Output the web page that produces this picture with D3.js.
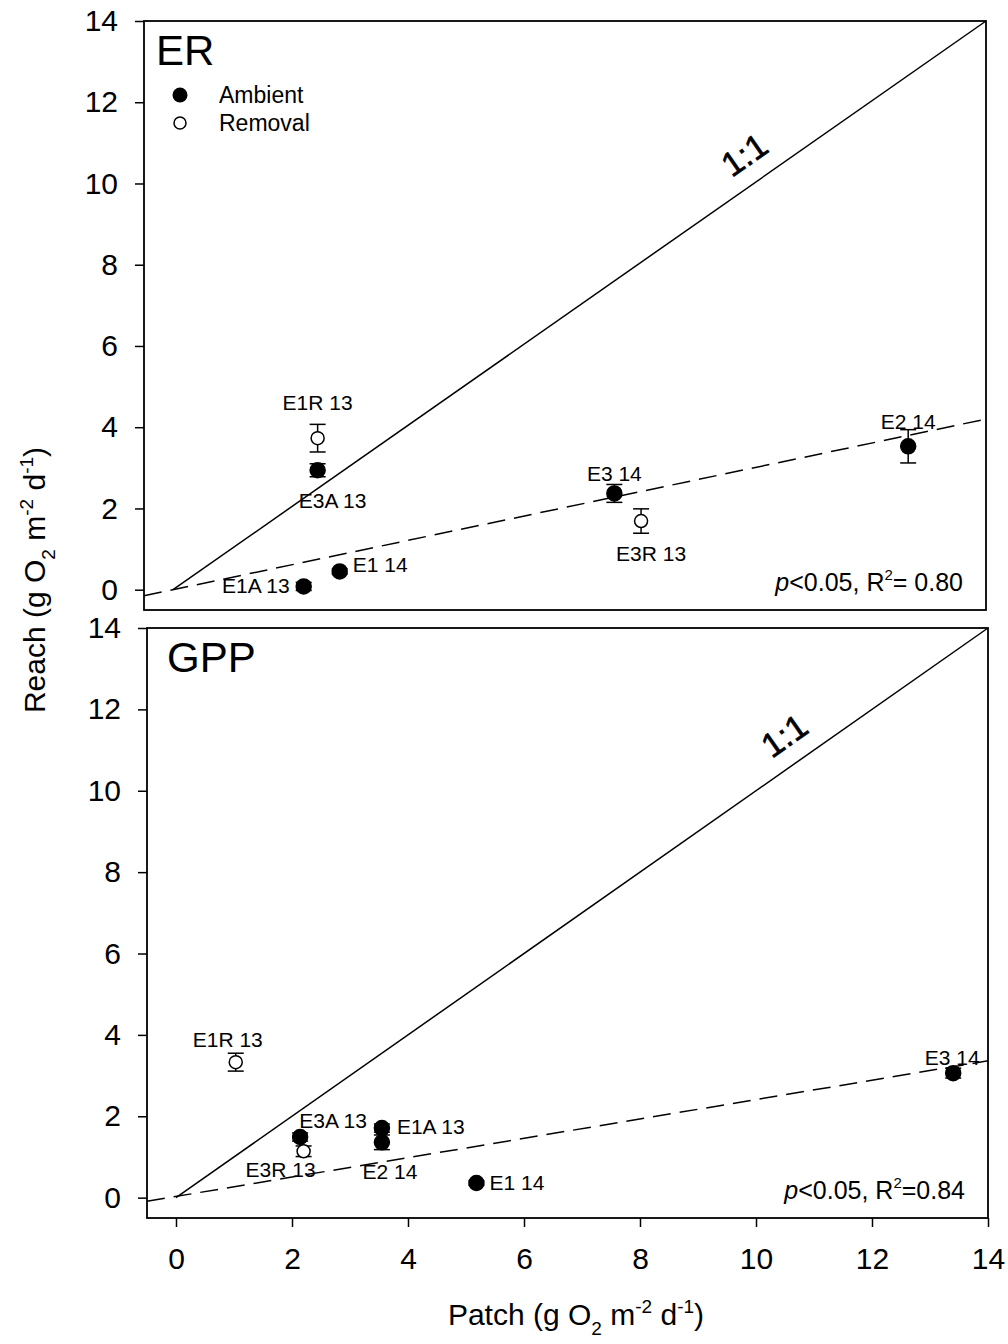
<!DOCTYPE html>
<html>
<head>
<meta charset="utf-8">
<script src="https://cdn.jsdelivr.net/npm/d3@7"></script>
<style>
  body { margin: 0; background: #fff; }
  text { font-family: "Liberation Sans", Arial, sans-serif; fill: #000; }
</style>
</head>
<body>
<div id="chart"></div>
<script>
// ER panel data
const erNames = ["E1A 13", "E1 14", "E3A 13", "E3 14", "E2 14", "E1R 13", "E3R 13"];
const erPatch = [2.25, 2.87, 2.49, 7.6, 12.66, 2.49, 8.06];
const erReach = [0.08, 0.45, 2.94, 2.37, 3.53, 3.73, 1.69];
const erErr   = [0.1, 0.06, 0.16, 0.22, 0.41, 0.34, 0.3];
const erType  = ["Ambient", "Ambient", "Ambient", "Ambient", "Ambient", "Removal", "Removal"];
const erFit   = { slope: 0.30, intercept: 0.0 };
const erStat  = "0.80";

// GPP panel data
const gppNames = ["E3A 13", "E1A 13", "E2 14", "E1 14", "E3 14", "E1R 13", "E3R 13"];
const gppPatch = [2.14, 3.55, 3.55, 5.18, 13.4, 1.03, 2.2];
const gppReach = [1.49, 1.71, 1.36, 0.36, 3.06, 3.33, 1.14];
const gppErr   = [0.1, 0.1, 0.18, 0.05, 0.12, 0.22, 0.13];
const gppType  = ["Ambient", "Ambient", "Ambient", "Ambient", "Ambient", "Removal", "Removal"];
const gppFit   = { slope: 0.238, intercept: 0.03 };
const gppStat  = "0.84";

const ticks = [0, 2, 4, 6, 8, 10, 12, 14];

// where each point label sits relative to its marker
const erLabelAt = {
  "E1R 13": [0, -28, "middle"], "E3A 13": [15, 38, "middle"], "E1 14": [13, 1, "start"],
  "E1A 13": [-14, 7, "end"], "E3 14": [0, -12, "middle"], "E3R 13": [10, 40, "middle"],
  "E2 14": [0, -17, "middle"]
};
const gppLabelAt = {
  "E1R 13": [-8, -15, "middle"], "E3A 13": [33, -9, "middle"], "E3R 13": [-23, 26, "middle"],
  "E1A 13": [15, 6, "start"], "E2 14": [8, 37, "middle"], "E1 14": [13, 7, "start"],
  "E3 14": [-1, -8, "middle"]
};

const svg = d3.select("#chart").append("svg")
  .attr("width", 1008)
  .attr("height", 1344);

function drawPanel(opt) {
  const x = d3.scaleLinear().domain([-0.5, 14]).range([opt.left, opt.right]);
  const y = d3.scaleLinear().domain([-0.5, 14]).range([opt.bottom, opt.top]);
  const g = svg.append("g");

  const data = opt.names.map((n, i) => ({
    name: n, px: opt.patch[i], ry: opt.reach[i], err: opt.err[i], type: opt.type[i]
  }));

  // frame
  g.append("rect")
    .attr("x", opt.left).attr("y", opt.top)
    .attr("width", opt.right - opt.left).attr("height", opt.bottom - opt.top)
    .attr("fill", "none").attr("stroke", "#000").attr("stroke-width", 1.8);

  // y axis
  const yAxis = g.append("g")
    .attr("transform", `translate(${opt.left},0)`)
    .call(d3.axisLeft(y).tickValues(ticks).tickSize(9).tickPadding(17).tickFormat(d3.format("d")));
  yAxis.select(".domain").remove();
  yAxis.selectAll("line").attr("stroke-width", 1.5);
  yAxis.selectAll("text").style("font-size", "30px").attr("font-family", "Liberation Sans, Arial, sans-serif");

  if (opt.xTicks) {
    const xAxis = g.append("g")
      .attr("transform", `translate(0,${opt.bottom})`)
      .call(d3.axisBottom(x).tickValues(ticks).tickSize(9).tickPadding(21).tickFormat(d3.format("d")));
    xAxis.select(".domain").remove();
    xAxis.selectAll("line").attr("stroke-width", 1.5);
    xAxis.selectAll("text").style("font-size", "30px").attr("font-family", "Liberation Sans, Arial, sans-serif");
  }

  // 1:1 line
  g.append("line")
    .attr("x1", x(0)).attr("y1", y(0)).attr("x2", x(14)).attr("y2", y(14))
    .attr("stroke", "#000").attr("stroke-width", 1.5);

  const ang = Math.atan2(y(0) - y(14), x(14) - x(0)) * 180 / Math.PI;
  g.append("text")
    .attr("transform", `translate(${x(opt.oneAt)},${y(opt.oneAt)}) rotate(${-ang})`)
    .attr("x", 23).attr("y", -17)
    .attr("text-anchor", "middle")
    .style("font-size", "34px")
    .style("stroke", "#000").style("stroke-width", 0.6)
    .text("1:1");

  // regression line
  const fx = [-0.5, 14];
  g.append("path")
    .attr("d", d3.line().x(d => x(d)).y(d => y(opt.fit.intercept + opt.fit.slope * d))(fx))
    .attr("fill", "none").attr("stroke", "#000").attr("stroke-width", 1.5)
    .attr("stroke-dasharray", "18,9");

  // error bars
  const eb = g.selectAll(".err").data(data).enter().append("g");
  eb.append("line")
    .attr("x1", d => x(d.px)).attr("x2", d => x(d.px))
    .attr("y1", d => y(d.ry - d.err)).attr("y2", d => y(d.ry + d.err))
    .attr("stroke", "#000").attr("stroke-width", 1.5);
  eb.selectAll(".cap").data(d => [d.ry - d.err, d.ry + d.err].map(v => ({ px: d.px, v })))
    .enter().append("line")
    .attr("x1", d => x(d.px) - 8).attr("x2", d => x(d.px) + 8)
    .attr("y1", d => y(d.v)).attr("y2", d => y(d.v))
    .attr("stroke", "#000").attr("stroke-width", 1.5);

  // points
  g.selectAll(".pt").data(data).enter().append("circle")
    .attr("cx", d => x(d.px)).attr("cy", d => y(d.ry))
    .attr("r", d => d.type === "Ambient" ? 7.5 : 6.5)
    .attr("fill", d => d.type === "Ambient" ? "#000" : "#fff")
    .attr("stroke", "#000").attr("stroke-width", 1.5);

  // point labels
  g.selectAll(".lbl").data(data).enter().append("text")
    .attr("x", d => x(d.px) + opt.labelAt[d.name][0])
    .attr("y", d => y(d.ry) + opt.labelAt[d.name][1])
    .attr("text-anchor", d => opt.labelAt[d.name][2])
    .style("font-size", "21px")
    .text(d => d.name);

  // panel title
  g.append("text")
    .attr("x", opt.left + opt.titleDx).attr("y", opt.top + 44)
    .style("font-size", "42px")
    .text(opt.title);

  // stats
  const st = g.append("text")
    .attr("x", opt.right - 23).attr("y", opt.bottom - 19)
    .attr("text-anchor", "end")
    .style("font-size", "25px");
  st.append("tspan").style("font-style", "italic").text("p");
  st.append("tspan").text("<0.05, R");
  st.append("tspan").attr("dy", -11).style("font-size", "15px").text("2");
  st.append("tspan").attr("dy", 11).text(opt.statSep + opt.stat);

  return { x, y, g };
}

const erPanel = drawPanel({
  left: 144, right: 986, top: 21, bottom: 610, xTicks: false,
  names: erNames, patch: erPatch, reach: erReach, err: erErr, type: erType,
  fit: erFit, stat: erStat, statSep: "= ", labelAt: erLabelAt, title: "ER", titleDx: 12, oneAt: 9.8
});
const gppPanel = drawPanel({
  left: 147, right: 988, top: 628, bottom: 1218, xTicks: true,
  names: gppNames, patch: gppPatch, reach: gppReach, err: gppErr, type: gppType,
  fit: gppFit, stat: gppStat, statSep: "=", labelAt: gppLabelAt, title: "GPP", titleDx: 20, oneAt: 10.45
});

// legend
const legend = svg.append("g").attr("transform", "translate(180,95)");
legend.append("circle").attr("r", 7.5).attr("fill", "#000");
legend.append("text").attr("x", 39).attr("y", 8).style("font-size", "23px").text("Ambient");
legend.append("circle").attr("cy", 28).attr("r", 6).attr("fill", "#fff").attr("stroke", "#000").attr("stroke-width", 1.5);
legend.append("text").attr("x", 39).attr("y", 36).style("font-size", "23px").text("Removal");

// axis titles
function unitLabel(sel, word) {
  sel.append("tspan").text(word + " (g O");
  sel.append("tspan").attr("dy", 10).style("font-size", "19px").text("2");
  sel.append("tspan").attr("dy", -10).text(" m");
  sel.append("tspan").attr("dy", -12).style("font-size", "19px").text("-2");
  sel.append("tspan").attr("dy", 12).text(" d");
  sel.append("tspan").attr("dy", -12).style("font-size", "19px").text("-1");
  sel.append("tspan").attr("dy", 12).text(")");
}

const xt = svg.append("text")
  .attr("x", 576).attr("y", 1325)
  .attr("text-anchor", "middle")
  .style("font-size", "30px");
unitLabel(xt, "Patch");

const yt = svg.append("text")
  .attr("transform", "translate(45,580) rotate(-90)")
  .attr("text-anchor", "middle")
  .style("font-size", "30px");
unitLabel(yt, "Reach");
</script>
</body>
</html>
